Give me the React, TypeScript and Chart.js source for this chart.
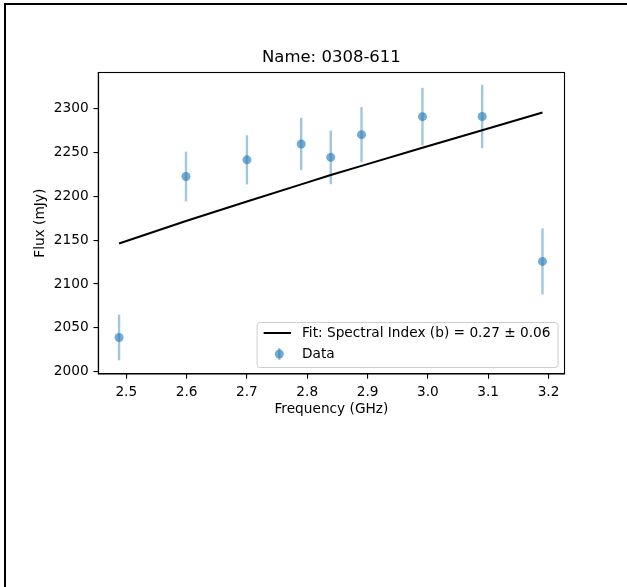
import React, { useEffect, useRef } from "react";
import { Chart, registerables } from "chart.js";

Chart.register(...registerables);

// ---- data ----
const frequencies = [2.488, 2.599, 2.7, 2.79, 2.839, 2.89, 2.991, 3.09, 3.19];
const fluxValues = [2039, 2222.5, 2241.5, 2259.5, 2244.3, 2270.2, 2290.7, 2290.8, 2125.7];
const fluxErrors = [26, 28.3, 28.1, 29.8, 30.6, 31.4, 32.9, 36.1, 37.6];
const fitValues = [2146.2, 2171.7, 2193.9, 2213.5, 2224.1, 2234.6, 2255.2, 2275.3, 2295.5];
const xTicks = [2.5, 2.6, 2.7, 2.8, 2.9, 3.0, 3.1, 3.2];
const yTicks = [2000, 2050, 2100, 2150, 2200, 2250, 2300];
const xRange = [2.4536, 3.2265];
const yRange = [1997.4, 2341];
const chartTitle = "Name: 0308-611";
const xLabel = "Frequency (GHz)";
const yLabel = "Flux (mJy)";
const fitLabel = "Fit: Spectral Index (b) = 0.27 \u00b1 0.06";
const dataLabel = "Data";

const FONT = "'DejaVu Sans', 'Liberation Sans', sans-serif";
const FS = 13.7;
const markerColor = "rgba(31,119,180,0.62)";
const errColor = "rgba(31,119,180,0.42)";

const errorBarPlugin = {
  id: "errorBars",
  beforeDatasetsDraw(chart: any) {
    const { ctx, scales } = chart;
    const x = scales.x;
    const y = scales.y;
    ctx.save();
    ctx.strokeStyle = errColor;
    ctx.lineWidth = 2.4;
    ctx.lineCap = "butt";
    frequencies.forEach((f, i) => {
      const px = x.getPixelForValue(f);
      ctx.beginPath();
      ctx.moveTo(px, y.getPixelForValue(fluxValues[i] - fluxErrors[i]));
      ctx.lineTo(px, y.getPixelForValue(fluxValues[i] + fluxErrors[i]));
      ctx.stroke();
    });
    ctx.restore();
  },
};

const spinePlugin = {
  id: "spines",
  afterDatasetsDraw(chart: any) {
    const { ctx, chartArea: ca } = chart;
    ctx.save();
    ctx.strokeStyle = "#000";
    ctx.lineWidth = 1.1;
    ctx.strokeRect(ca.left, ca.top, ca.right - ca.left, ca.bottom - ca.top);
    ctx.restore();
  },
};

const legendPlugin = {
  id: "mplLegend",
  afterDraw(chart: any) {
    const { ctx, chartArea: ca } = chart;
    ctx.save();
    ctx.font = `${FS}px ${FONT}`;
    const tw = Math.max(ctx.measureText(fitLabel).width, ctx.measureText(dataLabel).width);
    const pad = 0.4 * FS + 1.5;
    const handleLen = 2 * FS;
    const handlePad = 0.8 * FS;
    const w = pad + handleLen + handlePad + tw + pad;
    const h = 45;
    const right = ca.right - 7;
    const bottom = ca.bottom - 7;
    const left = right - w;
    const top = bottom - h;
    ctx.beginPath();
    (ctx as any).roundRect(left + 0.5, top + 0.5, w, h, 3);
    ctx.fillStyle = "rgba(255,255,255,0.8)";
    ctx.fill();
    ctx.strokeStyle = "rgb(204,204,204)";
    ctx.lineWidth = 1;
    ctx.stroke();

    const row1 = top + 11;
    const row2 = top + 32;
    const hx0 = left + pad;
    const hx1 = hx0 + handleLen;
    // fit line handle
    ctx.strokeStyle = "#000";
    ctx.lineWidth = 2.05;
    ctx.beginPath();
    ctx.moveTo(hx0, row1);
    ctx.lineTo(hx1, row1);
    ctx.stroke();
    // data handle: errorbar + marker
    const mx = (hx0 + hx1) / 2 + 2;
    ctx.strokeStyle = errColor;
    ctx.lineWidth = 2.4;
    ctx.beginPath();
    ctx.moveTo(mx, row2 - 6);
    ctx.lineTo(mx, row2 + 6);
    ctx.stroke();
    ctx.fillStyle = markerColor;
    ctx.beginPath();
    ctx.arc(mx, row2, 4.5, 0, Math.PI * 2);
    ctx.fill();

    ctx.fillStyle = "#000";
    ctx.textAlign = "left";
    ctx.textBaseline = "middle";
    ctx.fillText(fitLabel, hx1 + handlePad, row1);
    ctx.fillText(dataLabel, hx1 + handlePad, row2);
    ctx.restore();
  },
};

export default function App() {
  const canvasRef = useRef<HTMLCanvasElement | null>(null);

  useEffect(() => {
    if (!canvasRef.current) return;
    const font = { family: FONT, size: FS, weight: "normal" as const, lineHeight: 1.2 };
    const chart = new Chart(canvasRef.current, {
      type: "scatter",
      data: {
        datasets: [
          {
            type: "line",
            label: fitLabel,
            data: frequencies.map((f, i) => ({ x: f, y: fitValues[i] })),
            borderColor: "#000",
            borderWidth: 2.05,
            pointRadius: 0,
            fill: false,
            tension: 0,
          } as any,
          {
            type: "scatter",
            label: dataLabel,
            data: frequencies.map((f, i) => ({ x: f, y: fluxValues[i] })),
            backgroundColor: markerColor,
            borderWidth: 0,
            pointRadius: 4.5,
            pointHoverRadius: 4.5,
          },
        ],
      },
      options: {
        animation: false,
        responsive: false,
        events: [],
        layout: { padding: { left: 31.8, right: 62.5, top: 48, bottom: 169.8 } },
        plugins: {
          legend: { display: false },
          tooltip: { enabled: false },
          title: {
            display: true,
            text: chartTitle,
            fullSize: false,
            color: "#000",
            font: { family: FONT, size: 16.5, weight: "normal", lineHeight: 1.2 },
            padding: { top: 0, bottom: 4.7 },
          },
        },
        scales: {
          x: {
            type: "linear",
            position: "bottom",
            min: xRange[0],
            max: xRange[1],
            afterBuildTicks: (s: any) => {
              s.ticks = xTicks.map((v) => ({ value: v }));
            },
            afterFit: (s: any) => {
              s.height = 43.2;
            },
            ticks: {
              color: "#000",
              font,
              padding: 5.5,
              maxRotation: 0,
              autoSkip: false,
              callback: (v: any) => Number(v).toFixed(1),
            },
            grid: {
              display: true,
              drawOnChartArea: false,
              drawTicks: true,
              tickLength: 4.8,
              tickWidth: 1.1,
              tickColor: "#000",
              color: "#000",
              lineWidth: 1.1,
            },
            border: { display: true, color: "#000", width: 1.1 },
            title: { display: true, text: xLabel, color: "#000", font, padding: 0 },
          },
          y: {
            type: "linear",
            position: "left",
            min: yRange[0],
            max: yRange[1],
            afterBuildTicks: (s: any) => {
              s.ticks = yTicks.map((v) => ({ value: v }));
            },
            afterFit: (s: any) => {
              s.width = 66.5;
            },
            ticks: {
              color: "#000",
              font,
              padding: 4.8,
              autoSkip: false,
              callback: (v: any) => String(Math.round(Number(v))),
            },
            grid: {
              display: true,
              drawOnChartArea: false,
              drawTicks: true,
              tickLength: 4.8,
              tickWidth: 1.1,
              tickColor: "#000",
              color: "#000",
              lineWidth: 1.1,
            },
            border: { display: true, color: "#000", width: 1.1 },
            title: { display: true, text: yLabel, color: "#000", font, padding: 0 },
          },
        },
      } as any,
      plugins: [errorBarPlugin, spinePlugin, legendPlugin],
    });
    return () => chart.destroy();
  }, []);

  return (
    <>
      <div
        style={{
          position: "fixed",
          left: 4,
          top: 3,
          right: 0,
          bottom: 0,
          borderTop: "2px solid #000",
          borderLeft: "2px solid #000",
          background: "#fff",
        }}
      />
      <canvas
        ref={canvasRef}
        width={627}
        height={587}
        style={{ position: "fixed", left: 0, top: 0, width: 627, height: 587 }}
      />
    </>
  );
}
